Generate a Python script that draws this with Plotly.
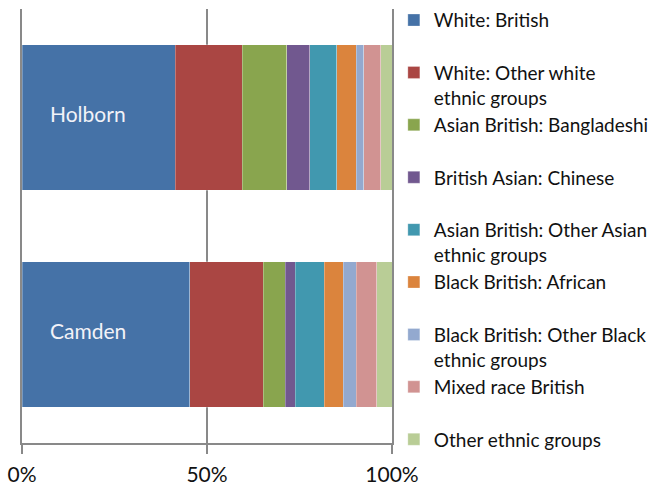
import plotly.graph_objects as go

areas = ["Holborn", "Camden"]
groups = [
    "White: British",
    "White: Other white<br>ethnic groups",
    "Asian British: Bangladeshi",
    "British Asian: Chinese",
    "Asian British: Other Asian<br>ethnic groups",
    "Black British: African",
    "Black British: Other Black<br>ethnic groups",
    "Mixed race British",
    "Other ethnic groups",
]
holborn = [41.4, 18.1, 12.1, 6.2, 7.3, 5.2, 2.1, 4.6, 3.0]
camden = [45.4, 19.8, 5.9, 2.8, 7.8, 5.1, 3.5, 5.6, 4.1]
colors = ["#4572A7", "#AA4643", "#89A54E", "#71588F", "#4198AF",
          "#DB843D", "#93A9CF", "#D19392", "#B9CD96"]
tick_vals = [0, 50, 100]
tick_text = ["0%", "50%", "100%"]

FONT = "Lato"
GRID = "#898989"

fig = go.Figure()
for i, g in enumerate(groups):
    name = g if "<br>" in g else g + "<br> "
    fig.add_trace(go.Bar(
        y=areas, x=[holborn[i], camden[i]], orientation="h", name=name,
        marker=dict(color=colors[i], line=dict(color="rgba(255,255,255,0.35)", width=0.8)),
        hoverinfo="x+y",
    ))

for a in areas:
    fig.add_annotation(x=0, y=a, xref="x", yref="y", text=a, showarrow=False,
                       xanchor="left", xshift=26, yshift=4,
                       font=dict(family=FONT, size=21, color="#f2f2f8"))

fig.update_layout(
    barmode="stack", bargap=0.33,
    width=662, height=489,
    margin=dict(l=22, r=270, t=9, b=46, autoexpand=False),
    paper_bgcolor="white", plot_bgcolor="white",
    font=dict(family=FONT, size=19, color="#111111"),
    xaxis=dict(range=[0, 100], tickvals=tick_vals, ticktext=tick_text,
               showgrid=True, gridcolor=GRID, gridwidth=2,
               zeroline=False, showline=True, linecolor=GRID, linewidth=2,
               ticks="outside", ticklen=9, tickwidth=2, tickcolor=GRID,
               tickfont=dict(family=FONT, size=21, color="#111111"),
               ticklabelstandoff=3, fixedrange=True, layer="below traces"),
    yaxis=dict(categoryorder="array", categoryarray=areas, autorange="reversed",
               showticklabels=False, showgrid=False, zeroline=False,
               showline=True, mirror=True, linecolor=GRID, linewidth=2,
               fixedrange=True, layer="below traces"),
    legend=dict(x=1.005, xanchor="left", y=1.018, yanchor="top",
                valign="top", traceorder="normal", itemclick=False,
                font=dict(family=FONT, size=19, color="#111111"),
                tracegroupgap=0, itemwidth=30, maxheight=489,
                bgcolor="rgba(0,0,0,0)"),
    showlegend=True,
)

fig.write_html("out.html")
